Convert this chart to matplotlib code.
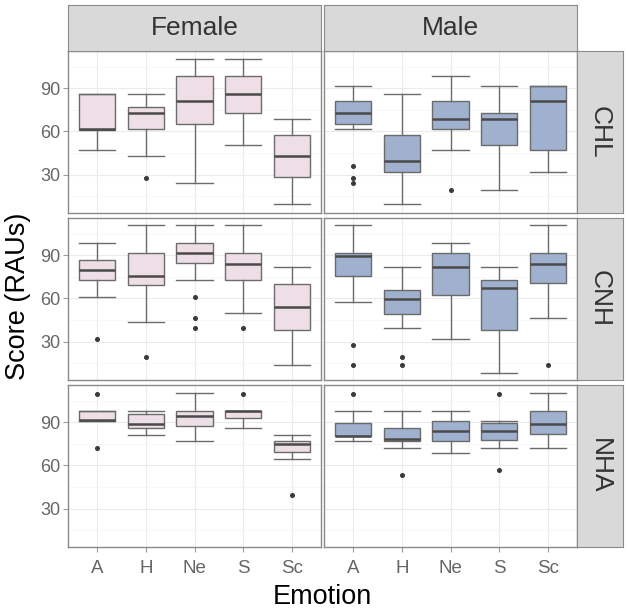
import matplotlib
matplotlib.use("Agg")
import matplotlib.pyplot as plt

plt.rcParams['font.family'] = ['Liberation Sans', 'DejaVu Sans']

emotions = ['A', 'H', 'Ne', 'S', 'Sc']
sexes = ['Female', 'Male']
groups = ['CHL', 'CNH', 'NHA']

# box stats per emotion: (whisker low, q1, median, q3, whisker high)
chl_female = [(47, 61, 61.5, 86, 86), (43, 61.4, 72.8, 77, 86.2), (24, 65.3, 81.5, 98.4, 110.6),
              (50.4, 72.8, 86.2, 98.4, 110.6), (9.4, 28.2, 43.1, 57.7, 68.7)]
chl_female_out = [[], [28], [], [], []]
chl_male = [(61.4, 65.3, 73, 81.5, 91.8), (9.4, 32.1, 39.6, 57.5, 86.2), (47, 61.4, 68.7, 81.5, 98.6),
            (19.3, 50.4, 68.7, 73, 91.8), (32.1, 47, 81.5, 91.8, 91.8)]
chl_male_out = [[35.8, 28, 23.9], [], [19.3], [], []]

cnh_female = [(61.3, 72.9, 79.6, 86.8, 98.8), (43.5, 69.2, 75.4, 91.9, 110.8), (72.9, 84.4, 91.9, 98.8, 110.8),
              (50.2, 72.9, 84, 91.9, 110.8), (14.1, 38.4, 54.1, 70.1, 81.9)]
cnh_female_out = [[31.7], [19.2], [61.1, 46.5, 39.3], [39.3], []]
cnh_male = [(57.6, 75.4, 89.5, 91.9, 110.8), (39.5, 49.5, 59.4, 65.9, 81.9), (31.7, 62.5, 81.9, 91.9, 98.8),
            (8.5, 38.2, 67.1, 72.9, 81.9), (46.5, 70.8, 84, 91.9, 110.8)]
cnh_male_out = [[27.5, 14.1], [19.2, 14.1], [], [], [14.1]]

nha_female = [(91.2, 91.2, 91.4, 97.7, 97.7), (81, 86.2, 88.6, 95.7, 97.7), (76.9, 87.1, 94.6, 97.7, 110),
              (85.9, 92.7, 97.7, 97.8, 97.8), (64.6, 69.2, 74.6, 76.7, 81)]
nha_female_out = [[109.7, 72.1], [], [], [109.7], [39.5]]
nha_male = [(76.7, 80.5, 80.7, 89.8, 97.7), (72.1, 76.7, 78.7, 85.9, 97.7), (68.5, 76.7, 83.7, 91.2, 97.7),
            (72.1, 77.8, 83.7, 89.8, 91.2), (72.1, 81.8, 88.6, 97.7, 110)]
nha_male_out = [[109.7], [53.5], [], [109.7, 57.1], []]

panels = {
    ('CHL', 'Female'): (chl_female, chl_female_out),
    ('CHL', 'Male'): (chl_male, chl_male_out),
    ('CNH', 'Female'): (cnh_female, cnh_female_out),
    ('CNH', 'Male'): (cnh_male, cnh_male_out),
    ('NHA', 'Female'): (nha_female, nha_female_out),
    ('NHA', 'Male'): (nha_male, nha_male_out),
}
fills = {'Female': '#EDDFE5', 'Male': '#9FB1CF'}

W, H = 628, 610
fig = plt.figure(figsize=(W / 100, H / 100), dpi=100)

def fx(px):
    return px / W

def fy(px):
    return 1 - px / H

col_x = [68, 324]
col_w = 253
row_y = [51, 218, 385]
row_h = 162
strip_col = '#D9D9D9'
border = '#8A8A8A'
text_col = '#333333'
tick_col = '#666666'

for r, g in enumerate(groups):
    for c, sx in enumerate(sexes):
        ax = fig.add_axes([fx(col_x[c]), fy(row_y[r] + row_h), fx(col_w), row_h / H])
        stats, outs = panels[(g, sx)]
        bxp_stats = []
        for (lo, q1, med, q3, hi), fl in zip(stats, outs):
            bxp_stats.append(dict(whislo=lo, q1=q1, med=med, q3=q3, whishi=hi, fliers=fl))
        ax.bxp(bxp_stats, positions=range(1, 6), widths=0.75, patch_artist=True,
               boxprops=dict(facecolor=fills[sx], edgecolor='#6B6B6B', linewidth=1.0),
               medianprops=dict(color='#4A4A4A', linewidth=1.8),
               whiskerprops=dict(color='#6B6B6B', linewidth=1.0),
               capprops=dict(color='#6B6B6B', linewidth=1.0),
               capwidths=0.75,
               flierprops=dict(marker='o', markersize=2.6, markerfacecolor='#3A3A3A',
                               markeredgecolor='#3A3A3A'))
        ax.set_xlim(0.4, 5.6)
        ax.set_ylim(3.4, 115.9)
        ax.set_yticks([30, 60, 90])
        ax.set_yticks([15, 45, 75, 105], minor=True)
        ax.set_xticks(range(1, 6))
        ax.grid(True, which='major', color='#EBEBEB', linewidth=0.8)
        ax.grid(True, which='minor', axis='y', color='#F4F4F4', linewidth=0.5)
        ax.set_axisbelow(True)
        for s in ax.spines.values():
            s.set_color(border)
            s.set_linewidth(1.0)
        ax.tick_params(which='minor', length=0)
        ax.tick_params(which='major', length=3.5, color='#9A9A9A', labelcolor=tick_col,
                       labelsize=13, pad=2)
        ax.tick_params(axis='x', which='major', labelsize=13.5, pad=6)
        if c == 0:
            ax.set_yticklabels(['30', '60', '90'])
        else:
            ax.tick_params(axis='y', which='major', length=0, labelleft=False)
        if r == 2:
            ax.set_xticklabels(emotions)
        else:
            ax.tick_params(axis='x', which='major', length=0, labelbottom=False)

# top strips
for c, sx in enumerate(sexes):
    sa = fig.add_axes([fx(col_x[c]), fy(51), fx(col_w), 46 / H])
    sa.set_facecolor(strip_col)
    sa.set_xticks([])
    sa.set_yticks([])
    for s in sa.spines.values():
        s.set_color(border)
    sa.text(0.5, 0.5, sx, ha='center', va='center', fontsize=19, color=text_col,
            transform=sa.transAxes)

# right strips
for r, g in enumerate(groups):
    sa = fig.add_axes([fx(577), fy(row_y[r] + row_h), fx(46), row_h / H])
    sa.set_facecolor(strip_col)
    sa.set_xticks([])
    sa.set_yticks([])
    for s in sa.spines.values():
        s.set_color(border)
    sa.text(0.5, 0.5, g, ha='center', va='center', fontsize=19, color=text_col,
            rotation=-90, transform=sa.transAxes)

fig.text(fx(322), fy(597), 'Emotion', ha='center', va='center', fontsize=19.5, color='black')
fig.text(fx(18), fy(296), 'Score (RAUs)', ha='center', va='center', fontsize=19.5,
         color='black', rotation=90)

fig.savefig('out.png', dpi=100)
